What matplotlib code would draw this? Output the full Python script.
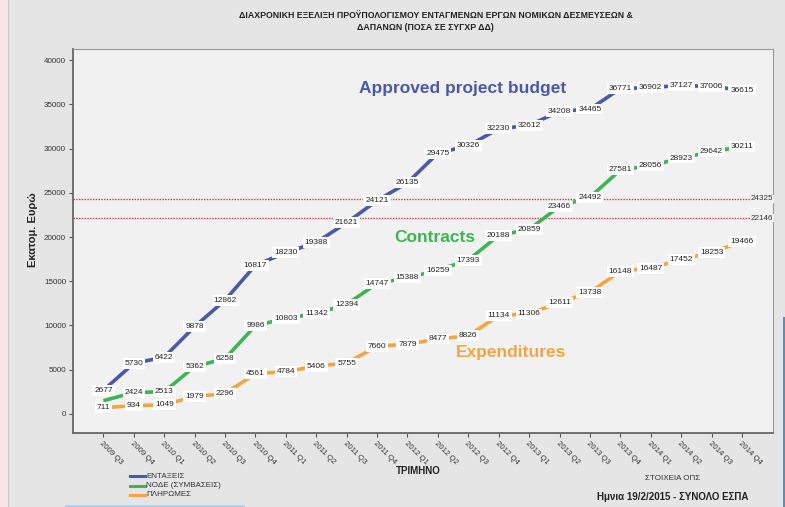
import matplotlib
matplotlib.use("Agg")
import matplotlib.pyplot as plt
import matplotlib.patches as mpatches

plt.rcParams["font.family"] = ["Liberation Sans", "DejaVu Sans"]

# ── Data ─────────────────────────────────────────────────────────────────────
quarters = [
    "2009 Q3", "2009 Q4", "2010 Q1", "2010 Q2", "2010 Q3", "2010 Q4",
    "2011 Q1", "2011 Q2", "2011 Q3", "2011 Q4", "2012 Q1", "2012 Q2",
    "2012 Q3", "2012 Q4", "2013 Q1", "2013 Q2", "2013 Q3", "2013 Q4",
    "2014 Q1", "2014 Q2", "2014 Q3", "2014 Q4",
]
entaxeis = [2677, 5730, 6422, 9878, 12862, 16817, 18230, 19388, 21621, 24121,
            26135, 29475, 30326, 32230, 32612, 34208, 34465, 36771, 36902,
            37127, 37006, 36615]
node = [1500, 2424, 2513, 5362, 6258, 9986, 10803, 11342, 12394, 14747, 15388,
        16259, 17393, 20188, 20859, 23466, 24492, 27581, 28056, 28923, 29642,
        30211]
# first contracts value has no printed label in the original
node_labeled = [False] + [True] * 21
pliromes = [711, 934, 1049, 1979, 2296, 4561, 4784, 5406, 5755, 7660, 7879,
            8477, 8826, 11134, 11306, 12611, 13738, 16148, 16487, 17452, 18253,
            19466]
ref_lines = [24325, 22146]
series_names = ["ΕΝΤΑΞΕΙΣ", "ΝΟΔΕ (ΣΥΜΒΑΣΕΙΣ)", "ΠΛΗΡΩΜΕΣ"]

BLUE = "#4a5aa8"
GREEN = "#3cb554"
ORANGE = "#f4a540"

fig = plt.figure(figsize=(7.85, 5.07), dpi=100)
fig.patch.set_facecolor("#e5e5e5")
# screenshot borders: pinkish strip on the left, bits of blue on right/bottom
fig.patches.append(mpatches.Rectangle((0, 0), 8 / 785, 1, transform=fig.transFigure,
                                      facecolor="#f9e6e8", edgecolor="none"))
fig.patches.append(mpatches.Rectangle((8 / 785, 0), 0.6 / 785, 1, transform=fig.transFigure,
                                      facecolor="#c8c8c8", edgecolor="none"))
fig.patches.append(mpatches.Rectangle((783 / 785, 0), 2 / 785, 190 / 507,
                                      transform=fig.transFigure,
                                      facecolor="#5b8fb8", edgecolor="none"))
fig.patches.append(mpatches.Rectangle((65 / 785, 0), 180 / 785, 2 / 507,
                                      transform=fig.transFigure,
                                      facecolor="#a9d3ee", edgecolor="none"))

ax = fig.add_axes([73 / 785, 1 - 433 / 507, 700 / 785, 384 / 507])
ax.set_facecolor("#f1f1f1")

x = list(range(len(quarters)))
for vals, color, flags in [(entaxeis, BLUE, None), (node, GREEN, node_labeled),
                           (pliromes, ORANGE, None)]:
    ax.plot(x, vals, color=color, lw=2.6, zorder=2, solid_capstyle="butt")
    for i, v in enumerate(vals):
        if flags is not None and not flags[i]:
            continue
        ax.text(i, v, str(v), fontsize=6, ha="center", va="center", color="#222222",
                zorder=4, bbox=dict(facecolor="white", edgecolor="none", pad=1.4))

for r in ref_lines:
    ax.axhline(r, color="#d03a3a", lw=1.0, ls=(0, (1, 1)), zorder=1)
    ax.text(22.02, r, str(r), fontsize=5.8, ha="right", va="center", color="#333333",
            zorder=4, bbox=dict(facecolor="#f1f1f1", edgecolor="none", pad=0.5))

ax.set_xlim(-1, 22.02)
ax.set_ylim(-2150, 41250)
ax.set_yticks(range(0, 40001, 5000))
ax.set_yticklabels([str(v) for v in range(0, 40001, 5000)], fontsize=5.8, color="#333333")
ax.set_xticks(x)
ax.set_xticklabels(quarters, rotation=-45, ha="left", rotation_mode="anchor",
                   fontsize=5.6, color="#333333")
ax.tick_params(axis="both", length=3, width=0.8, color="#555555", pad=2)

for s in ["left", "bottom"]:
    ax.spines[s].set_color("#666666")
    ax.spines[s].set_linewidth(1.3)
for s in ["top", "right"]:
    ax.spines[s].set_color("#999999")
    ax.spines[s].set_linewidth(0.8)

# ── Annotations ──────────────────────────────────────────────────────────────
ax.text(11.8, 36800, "Approved project budget", color=BLUE, fontsize=12.5,
        fontweight="bold", ha="center", va="center")
ax.text(10.9, 19900, "Contracts", color=GREEN, fontsize=12.5,
        fontweight="bold", ha="center", va="center")
ax.text(13.4, 6900, "Expenditures", color=ORANGE, fontsize=12.5,
        fontweight="bold", ha="center", va="center")

# ── Titles & labels ──────────────────────────────────────────────────────────
fig.text(436 / 785, 1 - 16 / 507,
         "ΔΙΑΧΡΟΝΙΚΗ ΕΞΕΛΙΞΗ ΠΡΟΫΠΟΛΟΓΙΣΜΟΥ ΕΝΤΑΓΜΕΝΩΝ ΕΡΓΩΝ ΝΟΜΙΚΩΝ ΔΕΣΜΕΥΣΕΩΝ &",
         fontsize=6.3, fontweight="bold", ha="center", va="center", color="#222222")
fig.text(425 / 785, 1 - 27 / 507, "ΔΑΠΑΝΩΝ (ΠΟΣΑ ΣΕ ΣΥΓΧΡ ΔΔ)",
         fontsize=6.3, fontweight="bold", ha="center", va="center", color="#222222")
fig.text(33 / 785, 1 - 230 / 507, "Εκατομ. Ευρώ", rotation=90, fontsize=8,
         fontweight="bold", ha="center", va="center", color="#222222")
fig.text(418 / 785, 1 - 471 / 507, "ΤΡΙΜΗΝΟ", fontsize=7, fontweight="bold",
         ha="center", va="center", color="#222222")
fig.text(673 / 785, 1 - 479 / 507, "ΣΤΟΙΧΕΙΑ ΟΠΣ", fontsize=5.8,
         ha="center", va="center", color="#333333")
fig.text(673 / 785, 1 - 497 / 507, "Ημνια 19/2/2015 - ΣΥΝΟΛΟ ΕΣΠΑ", fontsize=7,
         fontweight="bold", ha="center", va="center", color="#222222")

# legend drawn manually at bottom-left
for k, (name, color) in enumerate(zip(series_names, [BLUE, GREEN, ORANGE])):
    yy = 1 - (476 + 9.5 * k) / 507
    fig.add_artist(plt.Line2D([130 / 785, 145 / 785], [yy, yy], color=color, lw=2.2,
                              transform=fig.transFigure))
    fig.text(146 / 785, yy, name, fontsize=5.8, ha="left", va="center", color="#333333")

fig.savefig("out.png", dpi=100, facecolor=fig.get_facecolor())
